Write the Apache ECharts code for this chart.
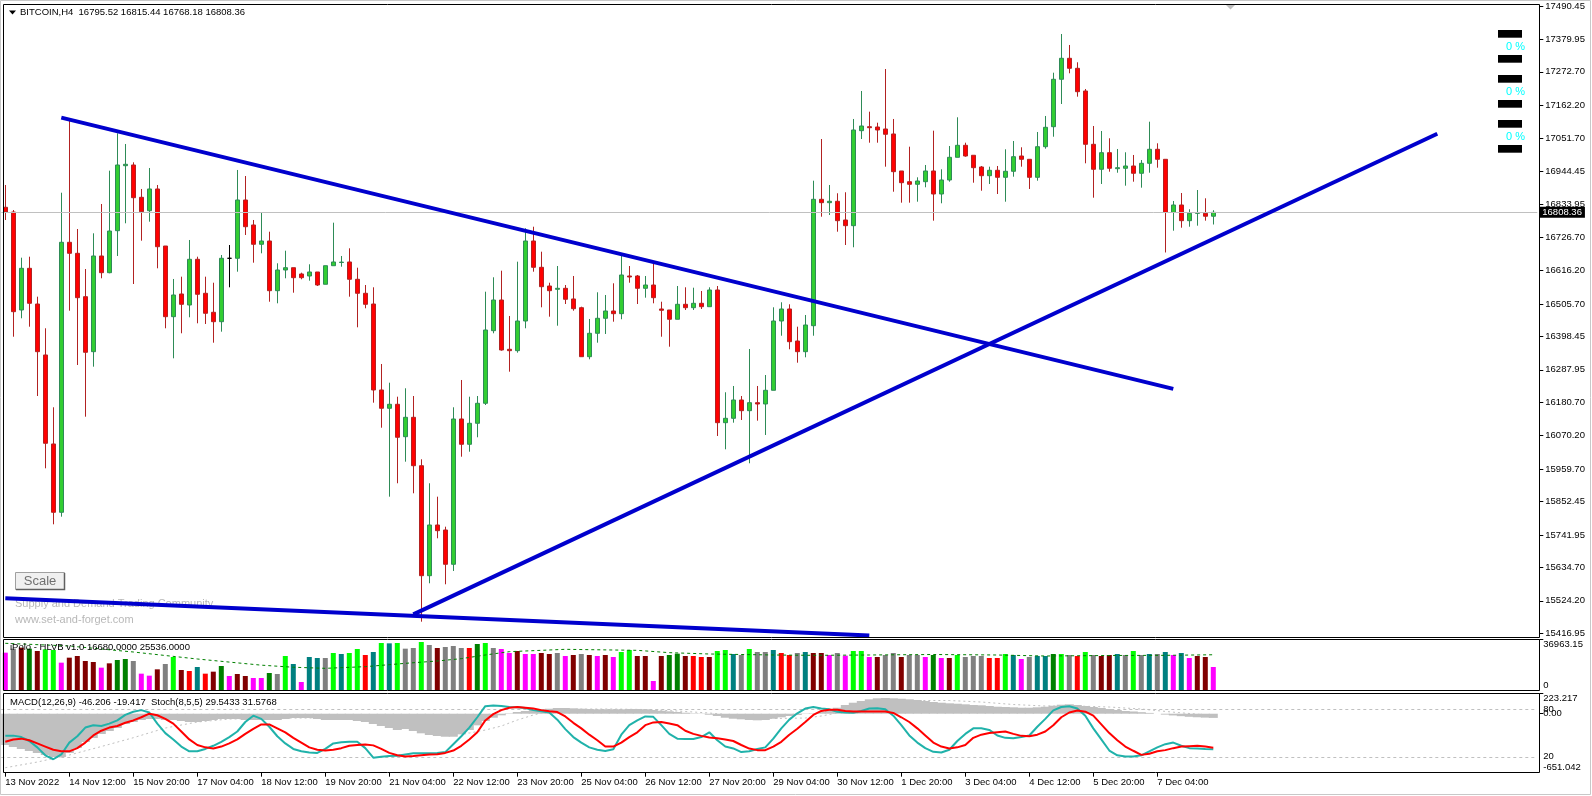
<!DOCTYPE html>
<html><head><meta charset="utf-8">
<script src="https://cdn.jsdelivr.net/npm/echarts@6/dist/echarts.min.js"></script>
<style>html,body{margin:0;padding:0;background:#fff;}#c{width:1592px;height:796px;}</style>
</head><body><div id="c"></div>
<script>
// ---------------- DATA ----------------
const openP = [
16825.1,16809.5,16485.6,16623.4,16505.4,16336.9,16042.7,15816.9,16709.4,16673.0,
16529.6,16347.8,16664.1,16608.9,16747.7,16962.6,16964.9,16858.1,16813.8,16885.6,
16697.1,16463.5,16538.5,16502.1,16653.2,16540.8,16478.0,16446.9,16656.5,16656.5,
16849.2,16766.6,16702.8,16713.7,16549.4,16617.8,16625.4,16604.6,16598.0,16611.2,
16570.6,16632.0,16642.6,16644.3,16587.1,16540.8,16505.4,16221.2,16160.7,16173.9,
16066.8,16130.9,15970.9,15607.3,15774.9,15758.4,15645.0,16125.3,16041.7,16111.1,
16177.2,16417.2,16518.6,16355.7,16351.1,16449.2,16713.7,16626.7,16564.9,16554.0,
16557.3,16522.0,16493.2,16331.2,16408.6,16458.2,16482.3,16473.4,16598.0,16598.0,
16557.3,16568.2,16488.9,16485.6,16454.9,16504.4,16493.2,16507.7,16496.5,16551.7,
16113.1,16127.6,16188.1,16152.8,16179.2,16174.9,16220.2,16449.2,16488.9,16383.1,
16347.8,16433.7,16851.5,16840.3,16844.9,16783.1,16764.3,17078.3,17091.5,17090.5,
17083.9,17067.4,16945.1,16909.7,16901.1,16909.7,16945.1,16869.0,16915.3,16990.3,
17030.0,16997.0,16958.3,16929.5,16947.4,16924.2,16944.1,16994.6,16983.7,16924.2,
17025.4,17091.5,17248.2,17317.6,17284.5,17209.5,17033.3,16950.7,17005.6,16952.7,
16954.0,16961.6,16937.5,16970.5,17016.8,16983.7,16807.9,16832.7,16780.8,16805.2,
16805.2,16795.52];
const highP = [
16898.8,16816.1,16658.5,16661.8,16529.6,16425.1,16164.0,16873.3,17113.6,16753.3,
16621.1,16739.1,16836.0,16946.1,17069.7,17034.3,16973.8,16885.6,16955.0,16898.8,
16697.1,16588.1,16595.7,16717.0,16661.8,16595.7,16575.8,16667.4,16700.4,16948.4,
16928.5,16783.1,16807.2,16744.4,16640.0,16681.6,16625.4,16608.9,16636.7,16611.2,
16632.0,16774.2,16664.1,16689.5,16625.4,16568.2,16560.6,16307.1,16245.3,16199.0,
16226.8,16201.3,15992.1,15912.8,15868.5,15769.3,16164.0,16254.2,16199.0,16201.3,
16546.1,16593.7,16615.5,16465.8,16645.3,16755.7,16760.9,16678.3,16575.8,16631.0,
16568.2,16598.0,16496.5,16455.9,16544.1,16535.2,16573.8,16667.4,16631.0,16601.3,
16598.0,16637.7,16513.0,16485.6,16564.9,16560.6,16559.3,16548.4,16560.6,16564.9,
16213.6,16234.4,16201.3,16356.7,16234.4,16270.7,16494.5,16511.1,16504.4,16430.4,
16469.1,16913.0,17050.8,16898.8,16871.4,16874.7,17117.0,17209.5,17141.1,17104.7,
17282.2,17117.0,16945.1,17025.4,16924.2,16964.9,17078.3,16950.7,17027.7,17122.6,
17038.6,16997.0,16961.6,16959.3,16961.6,17016.8,17044.2,17023.4,16983.7,17074.0,
17126.9,17270.0,17397.9,17361.6,17304.4,17216.1,17093.8,17077.3,17053.2,17017.8,
17006.9,16998.0,16981.4,17108.0,17036.6,16983.7,16845.9,16872.3,16818.5,16882.2,
16854.8,16815.44];
const lowP = [
16783.1,16397.3,16458.2,16430.4,16201.3,15962.3,15777.2,15802.4,16483.3,16303.8,
16132.9,16298.2,16590.4,16606.9,16664.1,16772.2,16571.5,16714.7,16777.5,16623.4,
16425.1,16325.9,16408.6,16461.5,16441.6,16439.3,16377.5,16413.9,16560.6,16612.2,
16733.5,16642.0,16673.0,16513.0,16507.7,16590.4,16542.8,16587.1,16582.5,16564.9,
16570.6,16632.0,16628.7,16529.6,16428.4,16491.2,16179.2,16096.5,15868.5,15912.8,
15984.2,15879.7,15455.3,15582.2,15730.9,15578.9,15622.9,16000.7,16017.2,16064.8,
16171.6,16408.6,16351.1,16281.7,16344.5,16425.1,16612.2,16494.5,16463.5,16433.7,
16505.4,16483.3,16331.2,16322.6,16377.5,16406.3,16446.9,16454.9,16575.8,16505.4,
16526.3,16507.7,16397.3,16364.3,16454.9,16485.6,16485.6,16488.9,16496.5,16069.1,
16025.1,16113.1,16122.0,15978.9,16119.7,16072.4,16220.2,16400.6,16355.7,16311.4,
16329.2,16400.6,16794.0,16799.6,16744.4,16700.4,16692.9,17050.8,17038.6,17038.6,
16959.3,16876.6,16840.3,16840.3,16843.6,16891.2,16780.8,16838.3,16909.7,16990.3,
16992.3,16906.4,16879.9,16902.1,16869.0,16843.6,16926.2,16959.3,16885.6,16913.0,
17018.8,17058.4,17166.5,17268.0,17190.7,16970.5,16856.8,16902.1,16942.8,16939.4,
16896.5,16909.7,16889.9,16939.4,16956.0,16675.7,16747.7,16757.6,16760.9,16764.3,
16780.8,16768.18];
const closeP = [
16809.5,16480.0,16623.4,16507.7,16347.8,16045.0,15816.9,16709.4,16673.0,16526.3,
16345.8,16664.1,16608.9,16746.7,16964.9,16967.2,16856.8,16810.5,16885.6,16694.8,
16463.5,16535.2,16504.4,16653.2,16537.5,16474.7,16446.9,16656.5,16656.5,16849.2,
16760.9,16702.8,16713.7,16549.4,16617.8,16625.4,16592.4,16592.4,16611.2,16568.2,
16632.0,16644.3,16643.9,16587.1,16540.8,16504.4,16221.2,16160.7,16173.9,16064.8,
16130.9,15970.9,15607.3,15774.9,15756.1,15645.0,16125.3,16041.7,16111.1,16177.2,
16419.5,16518.6,16353.4,16351.1,16449.2,16713.7,16626.7,16562.6,16549.4,16557.3,
16521.0,16489.9,16331.2,16408.6,16458.2,16482.3,16473.4,16601.3,16594.7,16557.3,
16568.2,16526.3,16484.6,16454.9,16504.4,16493.2,16507.7,16496.5,16551.7,16113.1,
16127.6,16188.1,16152.8,16179.2,16174.9,16220.2,16449.2,16488.9,16380.8,16347.8,
16436.0,16851.5,16840.3,16844.9,16780.8,16764.3,17080.6,17093.8,17088.2,17080.6,
17066.4,16942.8,16906.4,16901.1,16912.0,16945.1,16869.0,16915.3,16990.3,17030.0,
16994.6,16956.0,16929.5,16947.4,16924.2,16944.1,16992.3,16983.7,16924.2,17025.4,
17089.5,17248.2,17317.6,17284.5,17207.2,17033.3,16950.7,17005.6,16954.0,16956.0,
16961.6,16937.5,16970.5,17016.8,16983.7,16807.9,16832.7,16780.8,16805.2,16806.9,
16795.5,16808.36];

const volume = [
27059,29958,30683,29958,28267,29475,28992,19811,23435,24643,
21019,20294,16187,19328,21744,22469,21019,11838,10389,14979,
18845,23918,14496,13771,16670,11838,13288,17395,10147,11597,
10147,8698,8698,12322,11597,24643,18845,5798,23918,23194,
23194,26818,26093,26818,29717,25368,27542,34066,33824,34066,
29958,30442,34790,32616,30442,31166,31891,30442,30442,33341,
34066,30442,29717,26818,28267,26093,26093,26818,26093,26818,
24643,25368,26093,25368,24643,25368,23918,27542,28992,24643,
24643,6523,24643,25368,26334,24643,24643,23918,23918,28267,
28992,26093,25368,29717,27542,27542,28992,26818,25368,26818,
27542,26818,26818,25368,26818,24885,28267,28267,23918,23918,
25368,26818,23918,25368,25368,23918,25368,23194,23194,25368,
23918,24643,24643,23194,23194,26093,25368,22469,23918,24643,
24643,26093,26093,25368,24643,27542,25368,24643,25368,26093,
25368,28267,25368,26093,26093,27542,25368,26818,23194,24643,
23918,16680];
// volume bar class per bar (M magenta, G gray, D maroon, N green, L lime, T teal, R red)
const volClass = ("MGDNDLLMDD"+"DDMDNNGMMD"+"GLDRTRDNMD"+"DMMNGLTMTT"+"GLTLLRTLTL"+
  "GGLGDGGGRN"+"LGMMDMMDDG"+"MDGDMDMLLD"+"DMDNNDRRDL"+"LTGLGGTRRG"+
  "TDDMGMLLMD"+"GGDGGMNMDL"+"GGGRRLTMGT"+"TNLGRLGDDT"+"GLGTGTMTMD"+"DM").split('');
const volAvgPoints = [[0,33848],[8,31891],[16,27542],[24,22469],[32,18000],[36,16500],[40,15704],
  [45,16912],[50,19328],[54,21019],[57,22710],[60,25368],[63,27784],[70,29475],[79,28750],
  [83,27059],[88,26093],[96,25368],[101,25126],[108,25368],[116,25730],[124,25368],[130,24643],
  [138,25006],[145,25126],[151,25536]];

const macdHist = [
-345.6,-367.6,-389.7,-411.8,-433.9,-456.0,-478.0,-478.0,-433.9,-378.7,
-312.4,-268.3,-224.1,-191.0,-157.9,-113.7,-91.6,-69.6,-58.5,-58.5,
-69.6,-69.6,-80.6,-91.6,-91.6,-80.6,-69.6,-58.5,-58.5,-58.5,
-69.6,-69.6,-69.6,-69.6,-69.6,-58.5,-47.5,-47.5,-47.5,-58.5,
-69.6,-69.6,-69.6,-69.6,-80.6,-91.6,-113.7,-135.8,-157.9,-180.0,
-168.9,-191.0,-216.4,-235.2,-246.2,-253.9,-253.9,-227.4,-180.0,-128.1,
-80.6,-44.2,-17.7,4.4,18.8,29.8,40.8,48.6,55.2,62.9,
62.9,59.6,55.2,51.9,48.6,48.6,48.6,48.6,51.9,51.9,
48.6,40.8,33.1,26.5,18.8,11.0,4.4,-3.3,-11.0,-25.4,
-44.2,-55.2,-61.8,-69.6,-72.9,-69.6,-55.2,-39.7,-25.4,-14.4,
-3.3,4.4,18.8,40.8,66.2,96.0,121.4,140.2,159.0,170.0,
173.3,170.0,165.6,159.0,151.2,140.2,129.2,121.4,114.8,110.4,
103.8,96.0,92.7,85.0,77.3,74.0,70.7,66.2,66.2,70.7,
77.3,88.3,99.4,103.8,96.0,85.0,74.0,62.9,51.9,40.8,
29.8,25,17,9,0,-10,-19,-27,-34,-39,
-43,-46.206];
const macdSignalPoints = [[0,-596.2],[4,-533.2],[8,-456.0],[12,-362.1],[16,-265.0],[20,-157.9],
  [24,-91.6],[28,-58.5],[32,-53.0],[36,-47.5],[40,-47.5],[44,-53.0],[48,-69.6],[52,-113.7],
  [56,-191.0],[58,-213.1],[60,-180.0],[62,-135.8],[64,-69.6],[66,-14.4],[68,29.8],[72,51.9],
  [76,51.9],[80,46.4],[84,29.8],[88,7.7],[92,-25.4],[96,-53.0],[100,-47.5],[102,-25.4],
  [106,40.8],[110,118.1],[114,145.7],[118,145.7],[122,129.2],[126,101.6],[130,85.0],
  [134,85.0],[138,74.0],[142,51.9],[146,17],[151,-19.417]];

const stochMain = [
46.8,46.8,45,40,32,22,17,23,38,46,
57,60,59,62,66,73,77,79,76,62,
50,42,33,27,27,30,34,39,45,52,
64,72,68,58,46,37,30,27,25.5,25,
30,37,38.5,39,39,31,19,20,21,21.5,
23,24.5,24.7,24.7,25,26,36,46,57,70,
84,85,84.3,83,82.5,81.7,79,77.5,76,67,
55,45,38,32,29,27.5,29.5,48,60,66,
71,70.5,60,49,43,42.6,42.6,45,51,41,
33,30.6,26,27,30,32,43,56,67,75,
81,83,81,80,77,76,75.7,78,81,81.5,
80,72,60,47,38,31,26.4,25.5,29,40,
49,56,56,54,47,44,43.4,45,47,58,
68,78.7,83,84,81,72,56,42,28,22,
20.5,20.4,22,27,32,36,38,34,31,30.6,
30,29.5433];
const stochSignal = [
39,42,43,41,37,33,29,27,27,31,
38,47,53,57,59,63,66,70,74.5,72.5,
68,62,52,42,35,32,30.6,33,37,42,
49,55.3,61,61,56,51,44,38,32,29,
28,29,31,34,35,35.7,34.5,30,25,22,
20.4,21,22,23,23.4,25,28,34,42,51,
66,74,79,82,83,82,81,79,77.5,76.6,
71,63,56,48,41,33,33,38,45,51,
60,63.5,64,62,60,53,49,46.5,44.5,43.4,
42,40,35,30.5,28.5,28.5,33,39,48,55.5,
64,73,78,79.5,79.5,78,77.4,77.4,77.4,77.4,
77.4,75.5,70,64,56,47,38,33,30.6,32,
35,44,48,50,51,52,49,46.5,46,48,
52,60,70,76,78.5,77,72,61,50,41,
33,27.7,22.5,24,27,28.5,31,33,33.5,34,
33,31.5768];

const priceTicks = [17490.45,17379.95,17272.70,17162.20,17051.70,16944.45,16833.95,16726.70,16616.20,
  16505.70,16398.45,16287.95,16180.70,16070.20,15959.70,15852.45,15741.95,15634.70,15524.20,15416.95];
const tickLabels = ['13 Nov 2022','14 Nov 12:00','15 Nov 20:00','17 Nov 04:00','18 Nov 12:00','19 Nov 20:00',
  '21 Nov 04:00','22 Nov 12:00','23 Nov 20:00','25 Nov 04:00','26 Nov 12:00','27 Nov 20:00','29 Nov 04:00',
  '30 Nov 12:00','1 Dec 20:00','3 Dec 04:00','4 Dec 12:00','5 Dec 20:00','7 Dec 04:00'];
// trend lines: [barIndex, price] endpoints
const trendLines = [
  [[7,17121.6],[146,16224.9]],
  [[51,15479.4],[179,17068.0]],
  [[0,15532.6],[108,15409.8]]
];
const lastPrice = 16808.36;
const priceRange = [15405.67, 17497.06];
const volRange = [0, 36963.15];
const macdRange = [-651.042, 223.217];
const zoneLabels = ['0 %','0 %','0 %'];

// ---------------- CHART ----------------
const FONT = 'Liberation Sans';
const FS = 9.5;
const N_SLOTS = 192, TICK_STEP = 8;
const categories = Array.from({length: N_SLOTS}, (_, i) => String(i));
const isTick = (idx) => idx % TICK_STEP === 0 && idx / TICK_STEP < tickLabels.length;
const VOL_COLORS = {M:'#FF00FF', G:'#808080', D:'#800000', N:'#008000', L:'#00FF00', T:'#008080', R:'#FF0000'};

const candleData = openP.map((o, i) => {
  const v = [o, closeP[i], lowP[i], highP[i]];
  if (o === closeP[i]) return {value: v, itemStyle: {color: '#000', borderColor: '#000', color0: '#000', borderColor0: '#000'}};
  return v;
});
const volData = volume.map((v, i) => ({value: v, itemStyle: {color: VOL_COLORS[volClass[i]]}}));

const lbl = {color: '#000', fontSize: FS, fontFamily: FONT};
function yAx(grid, range, values, fmt, valign, margin, offset, tick) {
  return {
    type: 'value', gridIndex: grid, position: 'right', offset: offset, min: range[0], max: range[1],
    axisLine: {show: false}, splitLine: {show: false},
    axisTick: {show: tick, customValues: values, length: 4, lineStyle: {color: '#000'}},
    axisLabel: Object.assign({customValues: values, formatter: fmt, margin: margin, verticalAlign: valign}, lbl)
  };
}
function xAx(grid, show) {
  const ax = {
    type: 'category', gridIndex: grid, data: categories, boundaryGap: true, position: 'bottom',
    axisLine: {show: false, onZero: false}, splitLine: {show: false},
    axisTick: {show: false}, axisLabel: {show: false}
  };
  if (show) {
    ax.axisTick = {show: true, alignWithLabel: true, interval: isTick, length: 4, lineStyle: {color: '#000'}};
    ax.axisLabel = Object.assign({show: true, interval: isTick, align: 'left', margin: 5,
      formatter: (val, idx) => tickLabels[idx / TICK_STEP]}, lbl);
  }
  return ax;
}

const series = [
  {
    type: 'candlestick', xAxisIndex: 0, yAxisIndex: 0, data: candleData, barWidth: 4,
    itemStyle: {color: '#32CD32', color0: '#FF0000', borderColor: '#2E8B57', borderColor0: '#B22222', borderColorDoji: '#000', borderWidth: 1},
    markLine: {
      silent: true, symbol: ['none', 'none'], animation: false,
      lineStyle: {color: '#C0C0C0', type: 'solid', width: 1},
      label: {show: true, position: 'end', distance: 2, formatter: () => lastPrice.toFixed(2),
        backgroundColor: '#000', color: '#fff', padding: [1, 3, 0, 3], fontSize: FS, fontFamily: FONT, lineHeight: 10},
      data: [{yAxis: lastPrice}]
    }
  }
];
trendLines.forEach(seg => series.push({
  type: 'line', xAxisIndex: 0, yAxisIndex: 0, data: seg, symbol: 'none', silent: true, z: 5,
  lineStyle: {color: '#0000CD', width: 4}
}));
series.push(
  {type: 'bar', xAxisIndex: 1, yAxisIndex: 1, data: volData, barWidth: 5, silent: true},
  {type: 'line', xAxisIndex: 1, yAxisIndex: 1, data: volAvgPoints, symbol: 'none', silent: true, z: 4,
    lineStyle: {color: '#008000', width: 1, type: [3, 3]}},
  {type: 'bar', xAxisIndex: 2, yAxisIndex: 3, data: macdHist, barWidth: 9, silent: true,
    itemStyle: {color: '#C0C0C0'}},
  {type: 'line', xAxisIndex: 2, yAxisIndex: 3, data: macdSignalPoints, symbol: 'none', silent: true, z: 3,
    lineStyle: {color: '#C0C0C0', width: 1, type: [2, 3]}},
  {type: 'line', xAxisIndex: 2, yAxisIndex: 6, data: stochMain, symbol: 'none', silent: true, z: 5,
    lineStyle: {color: '#20B2AA', width: 2},
    markLine: {silent: true, symbol: ['none', 'none'], label: {show: false}, animation: false,
      lineStyle: {color: '#C0C0C0', type: [3, 3], width: 1}, data: [{yAxis: 80}, {yAxis: 20}]}},
  {type: 'line', xAxisIndex: 2, yAxisIndex: 6, data: stochSignal, symbol: 'none', silent: true, z: 6,
    lineStyle: {color: '#FF0000', width: 2}}
);

const frame = (x, y, w, h, stroke, z) => ({type: 'rect', silent: true, z: z, shape: {x: x, y: y, width: w, height: h},
  style: {fill: 'none', stroke: stroke, lineWidth: 1}});
const zoneBarsY = [30, 55, 75, 100, 120, 145];
const zoneLabelY = [46.7, 91.7, 136.7];
const graphics = [
  frame(0.5, 0.5, 1590, 794, '#C8C8C8', 20),
  frame(3.5, 4.5, 1536, 633, '#000', 20),
  frame(3.5, 639.5, 1536, 51, '#000', 20),
  frame(3.5, 693.5, 1536, 79, '#000', 20),
  {type: 'polygon', silent: true, z: 20, shape: {points: [[9, 10.5], [16, 10.5], [12.5, 14.5]]}, style: {fill: '#000'}},
  {type: 'polygon', silent: true, z: 20, shape: {points: [[1226, 5], [1235, 5], [1230.5, 9.5]]}, style: {fill: '#C0C0C0'}},
  {type: 'text', silent: true, z: 0, style: {text: 'Supply and Demand Trading Community', x: 15, y: 604,
    verticalAlign: 'middle', fill: '#B8B8B8', font: '11px "Liberation Sans"'}},
  {type: 'text', silent: true, z: 0, style: {text: 'www.set-and-forget.com', x: 15, y: 619.5,
    verticalAlign: 'middle', fill: '#B8B8B8', font: '11px "Liberation Sans"'}},
  {type: 'rect', silent: true, z: 20, shape: {x: 15.5, y: 572.5, width: 49, height: 17},
    style: {fill: '#F0F0F0', stroke: '#A0A0A0', lineWidth: 1}},
  {type: 'polyline', silent: true, z: 21, shape: {points: [[16, 589.5], [64.5, 589.5], [64.5, 573]]},
    style: {stroke: '#606060', lineWidth: 1.5, fill: 'none'}},
  {type: 'text', silent: true, z: 22, style: {text: 'Scale', x: 40, y: 581.5, align: 'center', verticalAlign: 'middle',
    fill: '#707070', font: '13px "Liberation Sans"'}}
];
zoneBarsY.forEach(y => graphics.push({type: 'rect', silent: true, z: 20,
  shape: {x: 1498, y: y, width: 24, height: 7.7}, style: {fill: '#000'}}));
zoneLabelY.forEach((y, k) => graphics.push({type: 'text', silent: true, z: 20,
  style: {text: zoneLabels[k], x: 1515.5, y: y, align: 'center', verticalAlign: 'middle', fill: '#00FFFF', font: '11px "Liberation Sans"'}}));

const titleStyle = {fontSize: FS, fontWeight: 'normal', color: '#000', fontFamily: FONT, lineHeight: 11};
const option = {
  animation: false,
  backgroundColor: '#fff',
  title: [
    {text: 'BITCOIN,H4  16795.52 16815.44 16768.18 16808.36', left: 20, top: 6.5, padding: 0, textStyle: titleStyle},
    {text: 'iPolo - HLVB v1.0 16680.0000 25536.0000', left: 10, top: 642.2, padding: 0, textStyle: titleStyle, z: 10},
    {text: 'MACD(12,26,9) -46.206 -19.417  Stoch(8,5,5) 29.5433 31.5768', left: 10, top: 697.2, padding: 0, textStyle: titleStyle}
  ],
  grid: [
    {left: 1.3, top: 4, width: 1536, height: 632.7, outerBoundsMode: 'none'},
    {left: 1.3, top: 639, width: 1536, height: 51, outerBoundsMode: 'none'},
    {left: 1.3, top: 693.5, width: 1536, height: 79.2, outerBoundsMode: 'none'}
  ],
  xAxis: [xAx(0, false), xAx(1, false), xAx(2, true)],
  yAxis: [
    yAx(0, priceRange, priceTicks, v => v.toFixed(2), 'middle', 6, 2, true),
    yAx(1, volRange, [volRange[1]], v => v.toFixed(2), 'top', 4, 2, true),
    yAx(1, volRange, [0], () => '0', 'bottom', 4, 2, false),
    yAx(2, macdRange, [macdRange[1]], v => v.toFixed(3), 'top', 4, 2, true),
    yAx(2, macdRange, [0], () => '0.00', 'middle', 4, 2, true),
    yAx(2, macdRange, [macdRange[0]], v => v.toFixed(3), 'bottom', 4, 2, false),
    yAx(2, [0, 100], [80, 20], v => String(v), 'middle', 4, 2, false)
  ],
  graphic: graphics,
  series: series
};
const chart = echarts.init(document.getElementById('c'), null, {renderer: 'canvas'});
chart.setOption(option);
</script></body></html>
